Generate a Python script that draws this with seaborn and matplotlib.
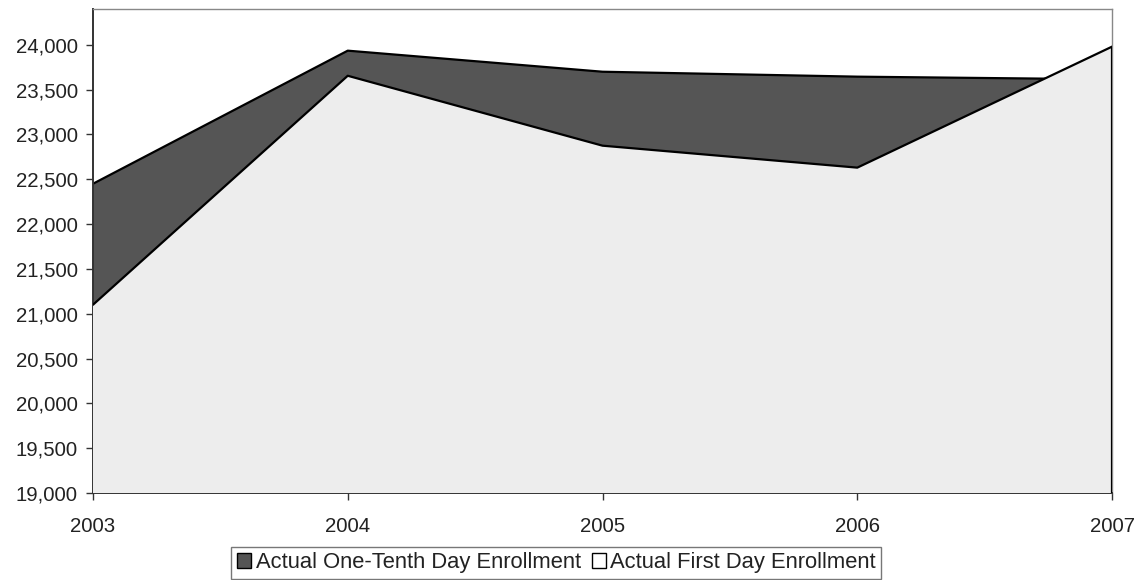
import matplotlib
matplotlib.use("Agg")
import matplotlib.pyplot as plt
from matplotlib.patches import Patch
from matplotlib.ticker import FuncFormatter
import seaborn as sns
import pandas as pd

years = [2003, 2004, 2005, 2006, 2007]
one_tenth_day = [22450, 23935, 23700, 23645, 23615]
first_day = [21100, 23655, 22875, 22630, 23980]
series_names = ["Actual One-Tenth Day Enrollment", "Actual First Day Enrollment"]
y_ticks = list(range(19000, 24001, 500))

sns.set_theme(style="white")
plt.rcParams['font.family'] = ['Liberation Sans', 'DejaVu Sans']

fig = plt.figure(figsize=(11.38, 5.80), dpi=100)
ax = fig.add_axes([0.0817, 0.15, 0.8955, 0.8345])

dark = "#555555"
light = "#ededed"

ax.fill_between(years, 19000, one_tenth_day, facecolor=dark, edgecolor="none", zorder=1)
sns.lineplot(x=years, y=one_tenth_day, ax=ax, color="black", lw=1.6, zorder=2)
ax.fill_between(years, 19000, first_day, facecolor=light, edgecolor="none", zorder=3)
sns.lineplot(x=years, y=first_day, ax=ax, color="black", lw=1.6, zorder=4)
ax.plot([years[-1], years[-1]], [19000, first_day[-1]], color="black", lw=1.6, zorder=4)

ax.set_xlim(2003, 2007)
ax.set_ylim(19000, 24400)
ax.set_xticks(years)
ax.set_xticklabels([str(y) for y in years])
ax.set_yticks(y_ticks)
ax.yaxis.set_major_formatter(FuncFormatter(lambda v, p: f"{int(v):,}"))

for s in ["left", "bottom"]:
    ax.spines[s].set_color("#333333")
    ax.spines[s].set_linewidth(1.4)
for s in ["top", "right"]:
    ax.spines[s].set_color("#888888")
    ax.spines[s].set_linewidth(1.0)

ax.tick_params(axis="both", which="major", direction="out", length=5, width=1,
               color="#333333", labelsize=14.7, labelcolor="#222222",
               left=True, bottom=True, pad=6)
ax.tick_params(axis="x", pad=12)

handles = [Patch(facecolor=dark, edgecolor="black", label=series_names[0]),
           Patch(facecolor="white", edgecolor="black", label=series_names[1])]
leg = fig.legend(handles=handles, loc="lower center", bbox_to_anchor=(0.489, -0.002),
                 ncol=2, frameon=True, fancybox=False, fontsize=15.8,
                 handlelength=0.65, handleheight=0.65, handletextpad=0.2,
                 columnspacing=0.5, borderpad=0.25, borderaxespad=0.1,
                 labelcolor="#222222")
leg.get_frame().set_edgecolor("#555555")
leg.get_frame().set_linewidth(1.0)

fig.savefig("out.png", dpi=100)
